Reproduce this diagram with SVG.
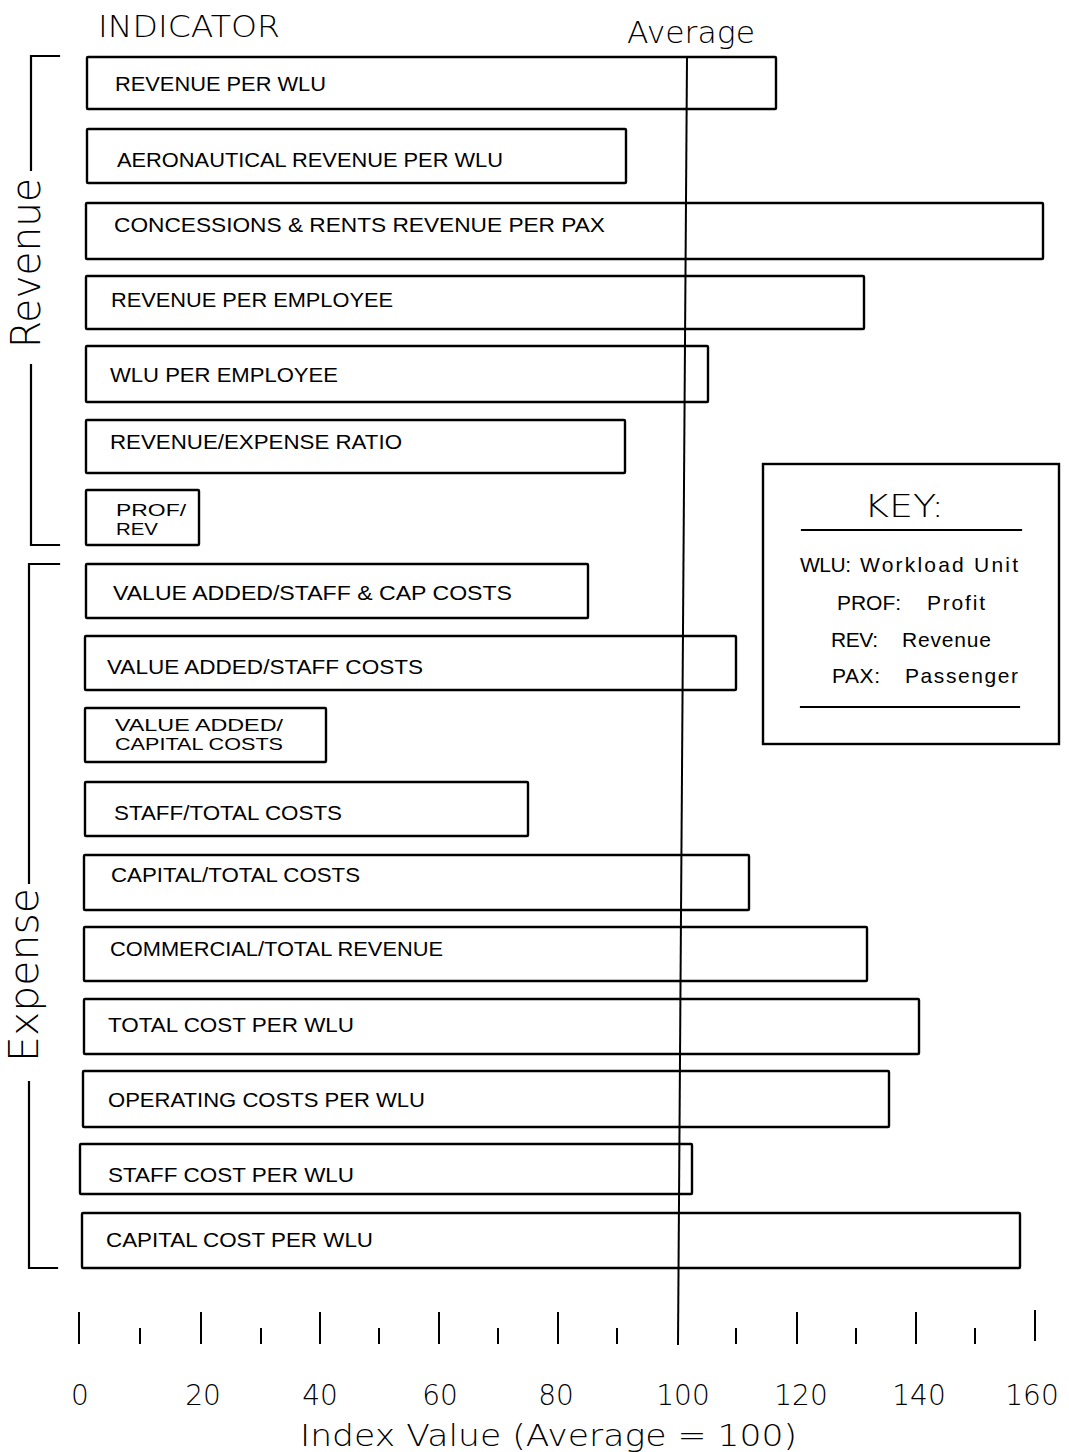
<svg xmlns="http://www.w3.org/2000/svg" width="1069" height="1452" viewBox="0 0 1069 1452">
  <style>
    .bar { fill: #fff; stroke: #000; stroke-width: 2.4; }
    .ln { stroke: #000; stroke-width: 2.2; fill: none; stroke-linecap: square; }
    .tick { stroke: #000; stroke-width: 2; }
    .lbl { font-family: "Liberation Sans", Arial, sans-serif; font-size: 21px; fill: #000; }
    .lbl2 { font-family: "Liberation Sans", Arial, sans-serif; font-size: 17px; fill: #000; }
    .thin { font-family: "DejaVu Sans", "Liberation Sans", sans-serif; font-weight: 200; fill: #000; }
    .key { font-family: "Liberation Sans", Arial, sans-serif; font-size: 21px; fill: #000; }
  </style>

  <rect width="1069" height="1452" fill="#fff"/>

  <!-- headings -->
  <text class="thin" x="98" y="37" font-size="30" textLength="182" lengthAdjust="spacingAndGlyphs">INDICATOR</text>
  <text class="thin" x="627" y="43" font-size="30" textLength="128" lengthAdjust="spacingAndGlyphs">Average</text>

  <!-- group brackets -->
  <g id="group-revenue">
    <path class="ln" d="M59,56 H31 V170 M31,365 V545 H59"/>
    <text class="thin" transform="translate(40,263) rotate(-90)" x="0" y="0" font-size="41" text-anchor="middle" textLength="170" lengthAdjust="spacingAndGlyphs">Revenue</text>
  </g>
  <g id="group-expense">
    <path class="ln" d="M59,564 H29 V883 M29,1082 V1268 H57"/>
    <text class="thin" transform="translate(38,975) rotate(-90)" x="0" y="0" font-size="41" text-anchor="middle" textLength="174" lengthAdjust="spacingAndGlyphs">Expense</text>
  </g>

  <!-- indicator bars -->
  <g id="bar-revenue-per-wlu">
    <rect class="bar" x="87" y="57" width="689" height="52" rx="1"/>
    <text class="lbl" x="115" y="91" textLength="211" lengthAdjust="spacingAndGlyphs">REVENUE PER WLU</text>
  </g>
  <g id="bar-aeronautical-revenue">
    <rect class="bar" x="87" y="129" width="539" height="54" rx="1"/>
    <text class="lbl" x="117" y="167" textLength="386" lengthAdjust="spacingAndGlyphs">AERONAUTICAL REVENUE PER WLU</text>
  </g>
  <g id="bar-concessions-rents">
    <rect class="bar" x="86" y="203" width="957" height="56" rx="1"/>
    <text class="lbl" x="114" y="232" textLength="491" lengthAdjust="spacingAndGlyphs">CONCESSIONS &amp; RENTS REVENUE PER PAX</text>
  </g>
  <g id="bar-revenue-per-employee">
    <rect class="bar" x="86" y="276" width="778" height="53" rx="1"/>
    <text class="lbl" x="111" y="307" textLength="282" lengthAdjust="spacingAndGlyphs">REVENUE PER EMPLOYEE</text>
  </g>
  <g id="bar-wlu-per-employee">
    <rect class="bar" x="86" y="346" width="622" height="56" rx="1"/>
    <text class="lbl" x="110" y="382" textLength="228" lengthAdjust="spacingAndGlyphs">WLU PER EMPLOYEE</text>
  </g>
  <g id="bar-revenue-expense-ratio">
    <rect class="bar" x="86" y="420" width="539" height="53" rx="1"/>
    <text class="lbl" x="110" y="449" textLength="292" lengthAdjust="spacingAndGlyphs">REVENUE/EXPENSE RATIO</text>
  </g>
  <g id="bar-prof-rev">
    <rect class="bar" x="86" y="490" width="113" height="55" rx="1"/>
    <text class="lbl2" x="116" y="516" textLength="70" lengthAdjust="spacingAndGlyphs">PROF/</text>
    <text class="lbl2" x="116" y="535" textLength="42" lengthAdjust="spacingAndGlyphs">REV</text>
  </g>
  <g id="bar-va-staff-cap">
    <rect class="bar" x="86" y="564" width="502" height="54" rx="1"/>
    <text class="lbl" x="113" y="600" textLength="399" lengthAdjust="spacingAndGlyphs">VALUE ADDED/STAFF &amp; CAP COSTS</text>
  </g>
  <g id="bar-va-staff">
    <rect class="bar" x="85" y="636" width="651" height="54" rx="1"/>
    <text class="lbl" x="107" y="674" textLength="316" lengthAdjust="spacingAndGlyphs">VALUE ADDED/STAFF COSTS</text>
  </g>
  <g id="bar-va-capital">
    <rect class="bar" x="85" y="708" width="241" height="54" rx="1"/>
    <text class="lbl2" x="115" y="731" textLength="168" lengthAdjust="spacingAndGlyphs">VALUE ADDED/</text>
    <text class="lbl2" x="115" y="750" textLength="168" lengthAdjust="spacingAndGlyphs">CAPITAL COSTS</text>
  </g>
  <g id="bar-staff-total">
    <rect class="bar" x="85" y="782" width="443" height="54" rx="1"/>
    <text class="lbl" x="114" y="820" textLength="228" lengthAdjust="spacingAndGlyphs">STAFF/TOTAL COSTS</text>
  </g>
  <g id="bar-capital-total">
    <rect class="bar" x="84" y="855" width="665" height="55" rx="1"/>
    <text class="lbl" x="111" y="882" textLength="249" lengthAdjust="spacingAndGlyphs">CAPITAL/TOTAL COSTS</text>
  </g>
  <g id="bar-commercial-total">
    <rect class="bar" x="84" y="927" width="783" height="54" rx="1"/>
    <text class="lbl" x="110" y="956" textLength="333" lengthAdjust="spacingAndGlyphs">COMMERCIAL/TOTAL REVENUE</text>
  </g>
  <g id="bar-total-cost-wlu">
    <rect class="bar" x="84" y="999" width="835" height="55" rx="1"/>
    <text class="lbl" x="108" y="1032" textLength="246" lengthAdjust="spacingAndGlyphs">TOTAL COST PER WLU</text>
  </g>
  <g id="bar-operating-costs-wlu">
    <rect class="bar" x="83" y="1071" width="806" height="56" rx="1"/>
    <text class="lbl" x="108" y="1107" textLength="317" lengthAdjust="spacingAndGlyphs">OPERATING COSTS PER WLU</text>
  </g>
  <g id="bar-staff-cost-wlu">
    <rect class="bar" x="80" y="1144" width="612" height="50" rx="1"/>
    <text class="lbl" x="108" y="1182" textLength="246" lengthAdjust="spacingAndGlyphs">STAFF COST PER WLU</text>
  </g>
  <g id="bar-capital-cost-wlu">
    <rect class="bar" x="82" y="1213" width="938" height="55" rx="1"/>
    <text class="lbl" x="106" y="1247" textLength="267" lengthAdjust="spacingAndGlyphs">CAPITAL COST PER WLU</text>
  </g>

  <!-- average reference line -->
  <g id="connectors">
    <line x1="687" y1="57" x2="678" y2="1345" stroke="#000" stroke-width="2"/>
  </g>

  <!-- key -->
  <g id="key">
    <rect class="bar" x="763" y="464" width="296" height="280"/>
    <text class="thin" x="904" y="517" font-size="32" text-anchor="middle" textLength="80" lengthAdjust="spacingAndGlyphs">KEY:</text>
    <line class="ln" x1="802" y1="530" x2="1021" y2="530"/>
    <text class="key" x="800" y="572" textLength="51" lengthAdjust="spacing">WLU:</text>
    <text class="key" x="860" y="572" textLength="158" lengthAdjust="spacing">Workload Unit</text>
    <text class="key" x="837" y="610" textLength="64" lengthAdjust="spacing">PROF:</text>
    <text class="key" x="927" y="610" textLength="58" lengthAdjust="spacing">Profit</text>
    <text class="key" x="831" y="647" textLength="47" lengthAdjust="spacing">REV:</text>
    <text class="key" x="902" y="647" textLength="89" lengthAdjust="spacing">Revenue</text>
    <text class="key" x="832" y="683" textLength="48" lengthAdjust="spacing">PAX:</text>
    <text class="key" x="905" y="683" textLength="113" lengthAdjust="spacing">Passenger</text>
    <line class="ln" x1="801" y1="707" x2="1019" y2="707"/>
  </g>

  <!-- index axis -->
  <g id="axis">
    <g class="tick">
      <line x1="79" y1="1312" x2="79" y2="1344"/>
      <line x1="201" y1="1312" x2="201" y2="1344"/>
      <line x1="320" y1="1312" x2="320" y2="1344"/>
      <line x1="439" y1="1312" x2="439" y2="1344"/>
      <line x1="558" y1="1312" x2="558" y2="1344"/>
      <line x1="797" y1="1312" x2="797" y2="1344"/>
      <line x1="916" y1="1312" x2="916" y2="1344"/>
      <line x1="1035" y1="1310" x2="1035" y2="1341"/>
      <line x1="140" y1="1328" x2="140" y2="1344"/>
      <line x1="261" y1="1328" x2="261" y2="1344"/>
      <line x1="379" y1="1328" x2="379" y2="1344"/>
      <line x1="498" y1="1328" x2="498" y2="1344"/>
      <line x1="617" y1="1328" x2="617" y2="1344"/>
      <line x1="736" y1="1328" x2="736" y2="1344"/>
      <line x1="856" y1="1328" x2="856" y2="1344"/>
      <line x1="975" y1="1328" x2="975" y2="1344"/>
    </g>
    <g class="thin" font-size="28" text-anchor="middle">
      <text x="80" y="1405">0</text>
      <text x="203" y="1405">20</text>
      <text x="320" y="1405">40</text>
      <text x="440" y="1405">60</text>
      <text x="556" y="1405">80</text>
      <text x="683" y="1405">100</text>
      <text x="801" y="1405">120</text>
      <text x="919" y="1405">140</text>
      <text x="1032" y="1405">160</text>
    </g>
    <text class="thin" x="300" y="1446" font-size="31" textLength="497" lengthAdjust="spacingAndGlyphs">Index Value (Average = 100)</text>
  </g>
</svg>
